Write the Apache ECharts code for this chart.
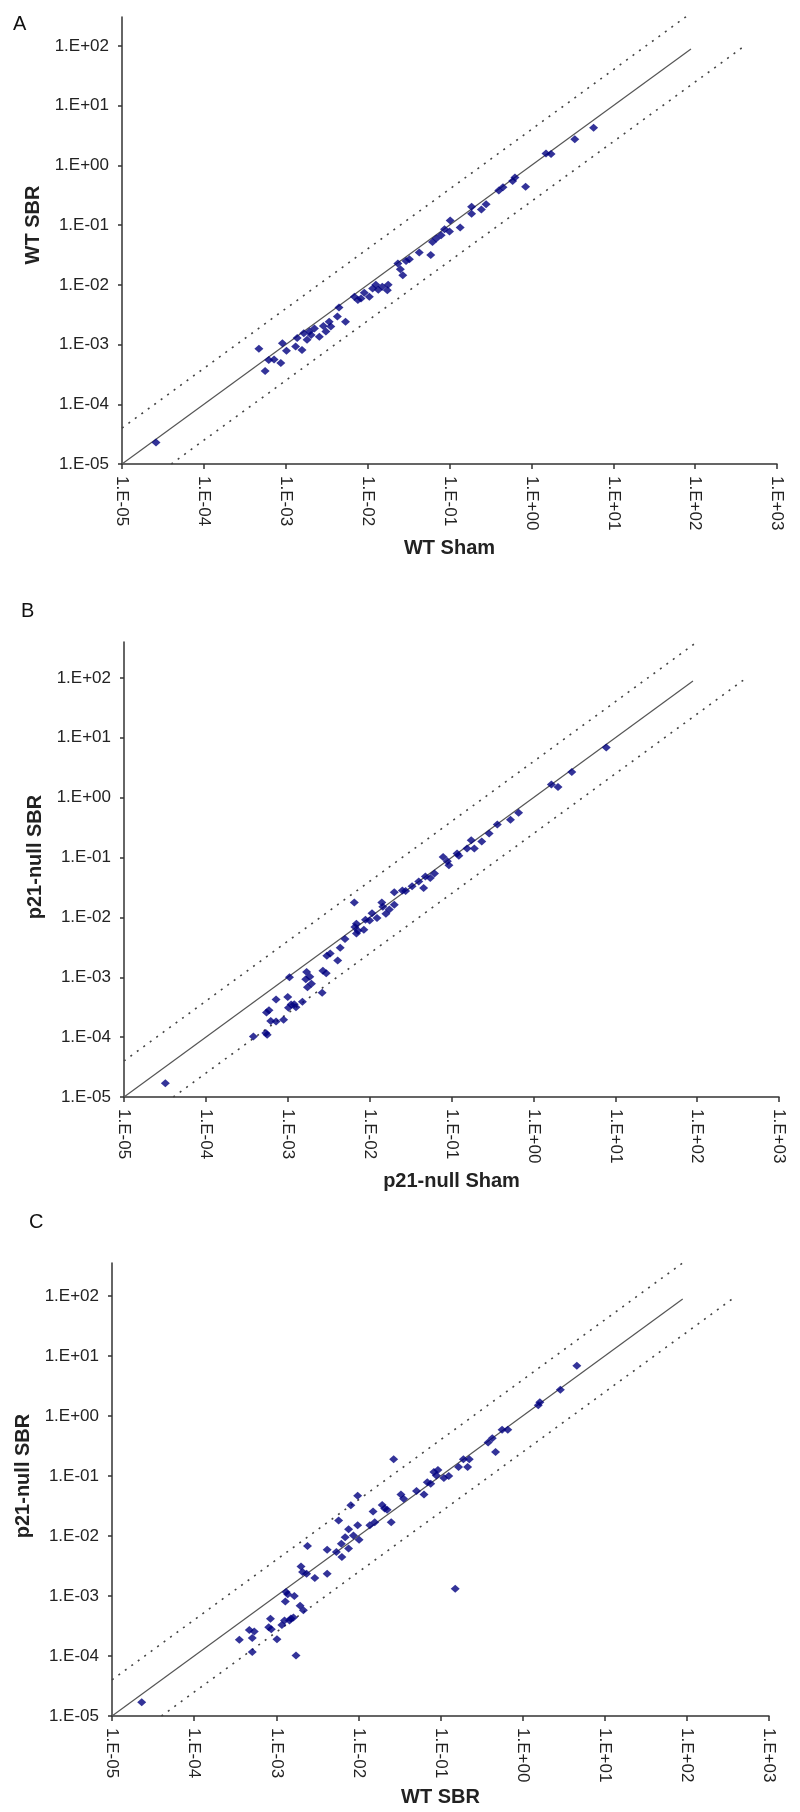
<!DOCTYPE html>
<html>
<head>
<meta charset="utf-8">
<script src="https://cdn.jsdelivr.net/npm/echarts@6/dist/echarts.min.js"></script>
<style>html,body{margin:0;padding:0;background:#fff}#c{width:800px;height:1812px}</style>
</head>
<body>
<div id="c"></div>
<script>
// ---- data ----
const decadeTicks = [1e-5, 1e-4, 1e-3, 1e-2, 1e-1, 1, 10, 100, 1000];

const aX = [2.6e-5,4.7e-4,5.6e-4,6.2e-4,7.2e-4,8.7e-4,9.1e-4,1.02e-3,1.32e-3,1.38e-3,1.58e-3,1.66e-3,1.82e-3,1.95e-3,2.04e-3,2.24e-3,2.57e-3,2.88e-3,3.09e-3,3.39e-3,3.55e-3,4.27e-3,4.47e-3,5.37e-3,6.9e-3,7.6e-3,8.3e-3,9.1e-3,1.05e-2,1.15e-2,1.26e-2,1.35e-2,1.51e-2,1.74e-2,1.78e-2,2.34e-2,2.51e-2,2.69e-2,2.95e-2,3.24e-2,4.27e-2,5.9e-2,6.2e-2,6.9e-2,7.9e-2,8.7e-2,0.1,0.102,0.135,0.186,0.186,0.245,0.28,0.40,0.45,0.59,0.63,0.85,1.51,1.74,3.39,5.75];
const aY = [2.3e-5,8.5e-4,3.6e-4,5.5e-4,5.6e-4,4.9e-4,1.05e-3,7.9e-4,9.3e-4,1.29e-3,8.1e-4,1.55e-3,1.2e-3,1.66e-3,1.45e-3,1.86e-3,1.35e-3,2.04e-3,1.66e-3,2.4e-3,2.0e-3,2.95e-3,4.17e-3,2.4e-3,6.3e-3,5.6e-3,5.9e-3,7.4e-3,6.3e-3,8.7e-3,1.0e-2,8.3e-3,9.3e-3,8.1e-3,1.0e-2,2.29e-2,1.82e-2,1.45e-2,2.51e-2,2.69e-2,3.47e-2,3.16e-2,5.2e-2,6.0e-2,6.8e-2,8.5e-2,7.8e-2,0.12,0.091,0.204,0.155,0.182,0.224,0.38,0.43,0.55,0.63,0.44,1.58,1.55,2.75,4.27];

const bX = [3.2e-5,3.8e-4,5.4e-4,5.6e-4,5.5e-4,5.9e-4,6.2e-4,7.2e-4,7.2e-4,8.9e-4,1.0e-3,1.05e-3,1.02e-3,1.1e-3,1.2e-3,1.26e-3,1.51e-3,1.66e-3,1.7e-3,1.74e-3,1.86e-3,1.95e-3,2.63e-3,2.69e-3,2.95e-3,3.0e-3,3.3e-3,4.07e-3,4.37e-3,5.0e-3,6.5e-3,6.6e-3,6.9e-3,6.9e-3,7.2e-3,8.5e-3,8.9e-3,1.0e-2,1.07e-2,1.23e-2,1.41e-2,1.45e-2,1.58e-2,1.74e-2,2.0e-2,2.0e-2,2.51e-2,2.75e-2,3.3e-2,3.98e-2,4.57e-2,4.8e-2,5.5e-2,6.2e-2,7.9e-2,8.9e-2,9.3e-2,0.117,0.123,0.155,0.174,0.19,0.234,0.288,0.363,0.525,0.66,1.66,2.0,2.95,7.76];
const bY = [1.7e-5,1.02e-4,1.17e-4,1.1e-4,2.57e-4,2.8e-4,1.86e-4,4.27e-4,1.82e-4,1.95e-4,4.7e-4,1.0e-3,3.1e-4,3.5e-4,3.55e-4,3.16e-4,3.9e-4,9.3e-4,1.23e-3,6.8e-4,1.02e-3,7.8e-4,5.5e-4,1.29e-3,1.17e-3,2.29e-3,2.5e-3,1.9e-3,3.1e-3,4.37e-3,1.78e-2,6.9e-3,7.8e-3,5.4e-3,6.0e-3,6.2e-3,9.1e-3,8.9e-3,1.17e-2,9.8e-3,1.78e-2,1.51e-2,1.15e-2,1.35e-2,2.63e-2,1.62e-2,2.82e-2,2.75e-2,3.3e-2,3.98e-2,3.1e-2,4.8e-2,4.57e-2,5.4e-2,0.102,8.7e-2,7.4e-2,0.117,0.107,0.141,0.195,0.141,0.186,0.251,0.355,0.427,0.56,1.66,1.51,2.69,6.9];

const cX = [2.3e-5,3.55e-4,4.7e-4,5.1e-4,5.4e-4,5.1e-4,8.1e-4,8.5e-4,8.7e-4,1.02e-3,1.17e-3,1.26e-3,1.29e-3,1.32e-3,1.38e-3,1.45e-3,1.51e-3,1.66e-3,1.62e-3,1.74e-3,1.95e-3,2.14e-3,2.0e-3,2.09e-3,2.34e-3,2.4e-3,2.95e-3,4.17e-3,4.17e-3,5.4e-3,5.75e-3,6.2e-3,6.3e-3,6.9e-3,7.6e-3,7.6e-3,8.1e-3,8.7e-3,9.8e-3,9.8e-3,1.02e-2,1.38e-2,1.51e-2,1.58e-2,1.95e-2,2.09e-2,2.24e-2,2.51e-2,2.69e-2,3.3e-2,3.55e-2,5.1e-2,6.3e-2,6.9e-2,7.6e-2,8.3e-2,8.9e-2,9.3e-2,0.11,0.126,0.151,0.166,0.19,0.214,0.224,0.38,0.427,0.468,0.562,0.66,1.55,1.62,2.88,4.57];
const cY = [1.7e-5,1.86e-4,2.7e-4,2.0e-4,2.57e-4,1.17e-4,3.0e-4,4.17e-4,2.8e-4,1.9e-4,3.3e-4,3.9e-4,8.1e-4,1.17e-3,1.07e-3,3.9e-4,4.2e-4,1.0e-3,4.4e-4,1.02e-4,6.9e-4,5.8e-4,3.1e-3,2.5e-3,2.34e-3,6.8e-3,2.0e-3,5.9e-3,2.34e-3,5.4e-3,1.82e-2,7.4e-3,4.47e-3,9.5e-3,6.2e-3,1.29e-2,3.24e-2,1.02e-2,4.7e-2,1.51e-2,8.7e-3,1.51e-2,2.57e-2,1.7e-2,3.3e-2,2.88e-2,2.75e-2,1.7e-2,0.19,4.9e-2,4.17e-2,5.6e-2,4.9e-2,7.9e-2,7.4e-2,0.117,0.102,0.126,9.3e-2,0.1,1.32e-3,0.141,0.19,0.141,0.19,0.363,0.427,0.251,0.589,0.589,1.51,1.7,2.75,6.9];

// reference lines: identity and 4-fold bounds (x, y pairs)
const identityLine = [[1e-5, 1e-5], [89, 89]];
const upperLine = [[1e-5, 4e-5], [100, 400]];
const lowerLine = [[4e-5, 1e-5], [400, 100]];

const panels = [
  { letter: 'A', xName: 'WT Sham', yName: 'WT SBR', x: aX, y: aY },
  { letter: 'B', xName: 'p21-null Sham', yName: 'p21-null SBR', x: bX, y: bY },
  { letter: 'C', xName: 'WT SBR', yName: 'p21-null SBR', x: cX, y: cY }
];

// ---- layout / style ----
const FONT = "'Liberation Sans', Arial, sans-serif";
const layout = [
  { left: 122, top: 17, width: 655, height: 447, yMaxExp: 2.486, lt: [13, 14], xGap: 74, yGap: 66, yShift: 31 },
  { left: 124, top: 642, width: 655, height: 455, yMaxExp: 2.60, lt: [21, 601], xGap: 74, yGap: 66, yShift: 25 },
  { left: 112, top: 1263, width: 657, height: 453, yMaxExp: 2.55, lt: [29, 1212], xGap: 71, yGap: 63, yShift: 27 }
];

function sci(v) {
  const e = Math.round(Math.log10(v));
  const a = Math.abs(e);
  return '1.E' + (e < 0 ? '-' : '+') + (a < 10 ? '0' : '') + a;
}

const axisLine = { lineStyle: { color: '#333', width: 1.5 } };
const labelStyle = { fontFamily: FONT, fontSize: 17, color: '#222' };

const option = { animation: false, backgroundColor: '#fff', title: [], grid: [], xAxis: [], yAxis: [], series: [] };

panels.forEach((p, i) => {
  const L = layout[i];
  option.title.push({ text: p.letter, left: L.lt[0], top: L.lt[1], padding: 0,
    textStyle: { fontFamily: FONT, fontSize: 20, fontWeight: 'normal', color: '#111' } });
  option.grid.push({ left: L.left, top: L.top, width: L.width, height: L.height, containLabel: false });
  option.xAxis.push({
    type: 'log', logBase: 10, gridIndex: i, min: 1e-5, max: 1e3,
    name: p.xName, nameLocation: 'middle', nameGap: L.xGap,
    nameTextStyle: { fontFamily: FONT, fontSize: 20, fontWeight: 'bold', color: '#222' },
    axisLine: axisLine,
    axisTick: { show: true, length: 5, lineStyle: { color: '#333', width: 1.5 }, customValues: decadeTicks },
    axisLabel: Object.assign({ rotate: -90, margin: 12, formatter: sci, customValues: decadeTicks }, labelStyle),
    splitLine: { show: false }
  });
  const yTicks = decadeTicks.filter(v => Math.log10(v) <= L.yMaxExp);
  option.yAxis.push({
    type: 'log', logBase: 10, gridIndex: i, min: 1e-5, max: Math.pow(10, L.yMaxExp),
    name: p.yName, nameLocation: 'middle', nameGap: L.yGap,
    nameTextStyle: { fontFamily: FONT, fontSize: 20, fontWeight: 'bold', color: '#222', padding: [0, 0, 0, L.yShift] },
    axisLine: axisLine,
    axisTick: { show: true, length: 4, lineStyle: { color: '#333', width: 1.5 }, customValues: yTicks },
    axisLabel: Object.assign({ margin: 13, formatter: sci, customValues: yTicks }, labelStyle),
    splitLine: { show: false }
  });
  const lineBase = { type: 'line', xAxisIndex: i, yAxisIndex: i, symbol: 'none', silent: true, z: 2, clip: true };
  option.series.push(Object.assign({}, lineBase, { data: identityLine, lineStyle: { color: '#555', width: 1.2 } }));
  option.series.push(Object.assign({}, lineBase, { data: upperLine, lineStyle: { color: '#444', width: 1.6, type: [2, 6] } }));
  option.series.push(Object.assign({}, lineBase, { data: lowerLine, lineStyle: { color: '#444', width: 1.6, type: [2, 6] } }));
  option.series.push({
    type: 'scatter', xAxisIndex: i, yAxisIndex: i, symbol: 'diamond', symbolSize: [9, 8], z: 5,
    itemStyle: { color: '#000080' },
    data: p.x.map((v, k) => [v, p.y[k]])
  });
});

const chart = echarts.init(document.getElementById('c'), null, { renderer: 'canvas' });
chart.setOption(option);
</script>
</body>
</html>
